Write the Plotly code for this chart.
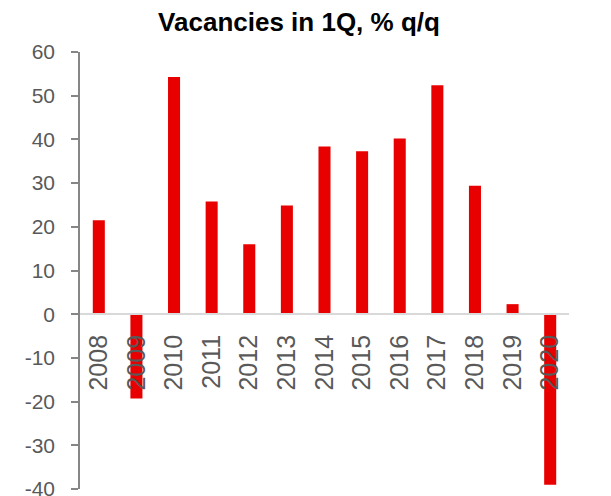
import plotly.graph_objects as go

years = ["2008", "2009", "2010", "2011", "2012", "2013", "2014",
         "2015", "2016", "2017", "2018", "2019", "2020"]
values = [21.5, -19.3, 54.3, 25.8, 16.0, 24.9, 38.4,
          37.3, 40.2, 52.4, 29.4, 2.3, -39.0]
y_ticks = [-40, -30, -20, -10, 0, 10, 20, 30, 40, 50, 60]

fig = go.Figure()
fig.add_trace(go.Bar(
    x=years, y=values,
    marker=dict(color="#E80000", line=dict(width=0)),
    width=0.32,
))

fig.update_layout(
    width=603, height=488,
    margin=dict(l=72, r=42, t=44, b=7),
    paper_bgcolor="white", plot_bgcolor="white",
    showlegend=False,
    title=dict(
        text="<b>Vacancies in 1Q, % q/q</b>",
        font=dict(family="Liberation Sans, Arial", size=26, color="#000000"),
        x=0.4826, xref="container", xanchor="center",
        y=0.991, yref="container", yanchor="top",
    ),
    xaxis=dict(
        type="category",
        anchor="free", position=0.4,
        showline=True, linecolor="#D9D9D9", linewidth=1.5,
        ticks="", tickangle=-90,
        tickfont=dict(family="Liberation Sans, Arial", size=25, color="#595959"),
        ticklabelstandoff=10,
        automargin=False,
        showgrid=False, zeroline=False,
    ),
    yaxis=dict(
        range=[-40, 60],
        tickvals=y_ticks,
        ticktext=[str(v) for v in y_ticks],
        showline=True, linecolor="#868686", linewidth=1.5,
        ticks="outside", ticklen=7, tickcolor="#868686", tickwidth=1.5,
        tickfont=dict(family="Liberation Sans, Arial", size=21, color="#595959"),
        ticklabelstandoff=12,
        ticklabeloverflow="allow",
        automargin=False,
        showgrid=False, zeroline=False,
    ),
)

fig.write_html("out.html")
